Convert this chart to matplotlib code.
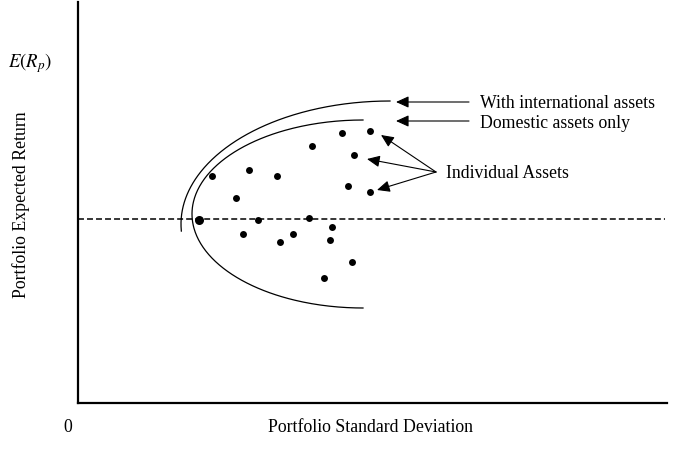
import numpy as np
import matplotlib
matplotlib.use("Agg")
import matplotlib.pyplot as plt

plt.rcParams["font.family"] = ["Liberation Serif", "DejaVu Serif"]
plt.rcParams["mathtext.fontset"] = "stix"

# Individual assets: (standard deviation, expected return), arbitrary units
asset_sd = [133.7, 171.3, 198.7, 234.0, 263.7, 292.0, 276.3, 270.0, 292.0, 158.3,
            120.7, 180.3, 230.7, 253.7, 164.7, 215.0, 202.3, 252.3, 274.3, 246.0]
asset_ret = [226.7, 233.3, 226.7, 256.7, 269.7, 272.0, 247.7, 216.7, 210.7, 205.0,
             183.0, 183.0, 184.7, 175.7, 169.0, 169.3, 161.3, 162.7, 141.0, 125.3]
# the minimum-variance asset is drawn slightly larger
min_var_index = 10

# Frontiers described as half-ellipses: centre (sd, ret), half-widths, angular span
domestic_centre = (285.0, 189.0)
domestic_radii = (171.0, 94.0)
domestic_span = (90.0, 270.0)

international_centre = (312.0, 179.0)
international_radii = (209.0, 123.0)
international_span = (90.0, 183.3)

mean_return_level = 184.0

fig = plt.figure(figsize=(7.0, 4.52), dpi=100)
ax = fig.add_axes([78 / 700, 48 / 452, 589 / 700, 401 / 452])
ax.set_xlim(0, 589)
ax.set_ylim(0, 401)
for side in ("top", "right"):
    ax.spines[side].set_visible(False)
for side in ("left", "bottom"):
    ax.spines[side].set_linewidth(1.6)
ax.set_xticks([])
ax.set_yticks([])


def frontier(centre, radii, span):
    t = np.radians(np.linspace(span[0], span[1], 300))
    return centre[0] + radii[0] * np.cos(t), centre[1] + radii[1] * np.sin(t)


x, y = frontier(international_centre, international_radii, international_span)
ax.plot(x, y, color="black", lw=0.9)
x, y = frontier(domestic_centre, domestic_radii, domestic_span)
ax.plot(x, y, color="black", lw=0.9)

ax.axhline(mean_return_level, xmin=0, xmax=587 / 589, color="black", lw=1.1,
           linestyle=(0, (3.9, 2.0)))

sizes = [6.5 if i == min_var_index else 5.0 for i in range(len(asset_sd))]
for sd, r, s in zip(asset_sd, asset_ret, sizes):
    ax.plot(sd, r, "o", color="black", markersize=s, markeredgewidth=0)

arrow = dict(arrowstyle="-|>,head_length=0.55,head_width=0.25", color="black",
             lw=0.8, mutation_scale=14, shrinkA=0, shrinkB=0)

fs = 12.8
ax.annotate("", xy=(318, 301), xytext=(391, 301), arrowprops=arrow)
ax.text(402, 301, "With international assets", fontsize=fs, va="center", ha="left")
ax.annotate("", xy=(318, 282), xytext=(391, 282), arrowprops=arrow)
ax.text(402, 281, "Domestic assets only", fontsize=fs, va="center", ha="left")

fan_origin = (358, 231)
for tip in [(303, 268), (289, 244), (299, 213)]:
    ax.annotate("", xy=tip, xytext=fan_origin, arrowprops=arrow)
ax.text(368, 231, "Individual Assets", fontsize=fs, va="center", ha="left")

ax.text(-70, 341, r"$E(R_p)$", fontsize=13.5, va="center", ha="left", clip_on=False)
ax.text(-57, 199, "Portfolio Expected Return", fontsize=fs, rotation=90,
        va="center", ha="center", clip_on=False)
ax.text(-10, -24, "0", fontsize=fs, va="center", ha="center", clip_on=False)
ax.text(292, -24, "Portfolio Standard Deviation", fontsize=fs, va="center",
        ha="center", clip_on=False)

fig.savefig("out.png", dpi=100)
